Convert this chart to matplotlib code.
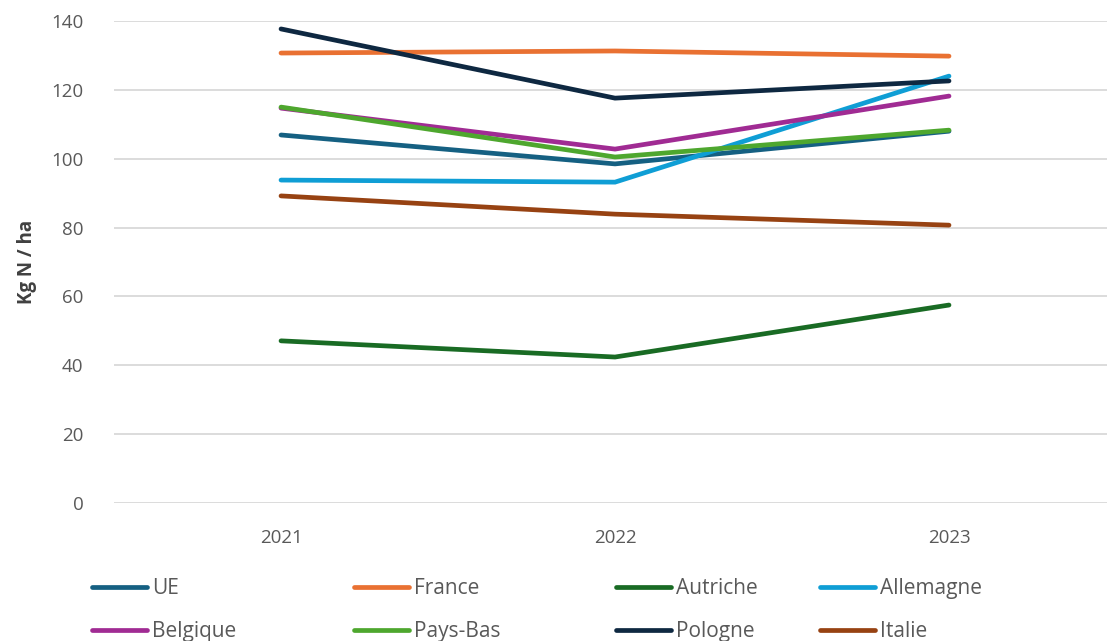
import matplotlib.pyplot as plt

plt.rcParams['font.family'] = ['Open Sans', 'DejaVu Sans']

years = ["2021", "2022", "2023"]
series_names = ["UE", "France", "Autriche", "Allemagne", "Belgique", "Pays-Bas", "Pologne", "Italie"]
ue = [106.9, 98.5, 108.0]
france = [130.7, 131.3, 129.8]
autriche = [47.1, 42.4, 57.5]
allemagne = [93.8, 93.2, 124.0]
belgique = [114.7, 102.8, 118.2]
pays_bas = [115.0, 100.5, 108.3]
pologne = [137.7, 117.6, 122.6]
italie = [89.2, 83.9, 80.7]
values = [ue, france, autriche, allemagne, belgique, pays_bas, pologne, italie]
colors = ["#156082", "#E97132", "#196B24", "#0F9ED5", "#A02B93", "#4EA72E", "#0E2841", "#974212"]

fig = plt.figure(figsize=(11.07, 6.41), dpi=100)
ax = fig.add_axes([0.103, 0.2153, 0.897, 0.7519])

x = list(range(len(years)))
lines = {}
for name, vals, c in zip(series_names, values, colors):
    ln, = ax.plot(x, vals, color=c, lw=3.4, solid_capstyle='round', solid_joinstyle='miter', label=name)
    lines[name] = ln

ax.set_xlim(-0.5, -0.5 + 993 / 334)
ax.set_ylim(0, 140)
ax.set_yticks(range(0, 141, 20))
ax.set_xticks(x)
ax.set_xticklabels(years)
ax.grid(axis='y', color='#D9D9D9', lw=1.3)
ax.set_axisbelow(True)
for s in ax.spines.values():
    s.set_visible(False)
ax.tick_params(length=0, labelsize=13.5, colors='#595959')
ax.tick_params(axis='x', pad=19)
ax.tick_params(axis='y', pad=22)
ax.set_ylabel("Kg N / ha", fontsize=13.5, fontweight='bold', color='#404040', labelpad=10)

cols = [("UE", "Belgique"), ("France", "Pays-Bas"), ("Autriche", "Pologne"), ("Allemagne", "Italie")]
col_x = [92, 354, 616, 820]
for (a, b), px in zip(cols, col_x):
    leg = fig.legend([lines[a], lines[b]], [a, b], loc='upper left',
                     bbox_to_anchor=(px / 1107, 1 - 578 / 641), frameon=False,
                     fontsize=15, handlelength=2.65, handletextpad=0.25,
                     labelspacing=1.05, borderpad=0, borderaxespad=0)
    for t in leg.get_texts():
        t.set_color('#595959')

fig.savefig("out.png", dpi=100)
